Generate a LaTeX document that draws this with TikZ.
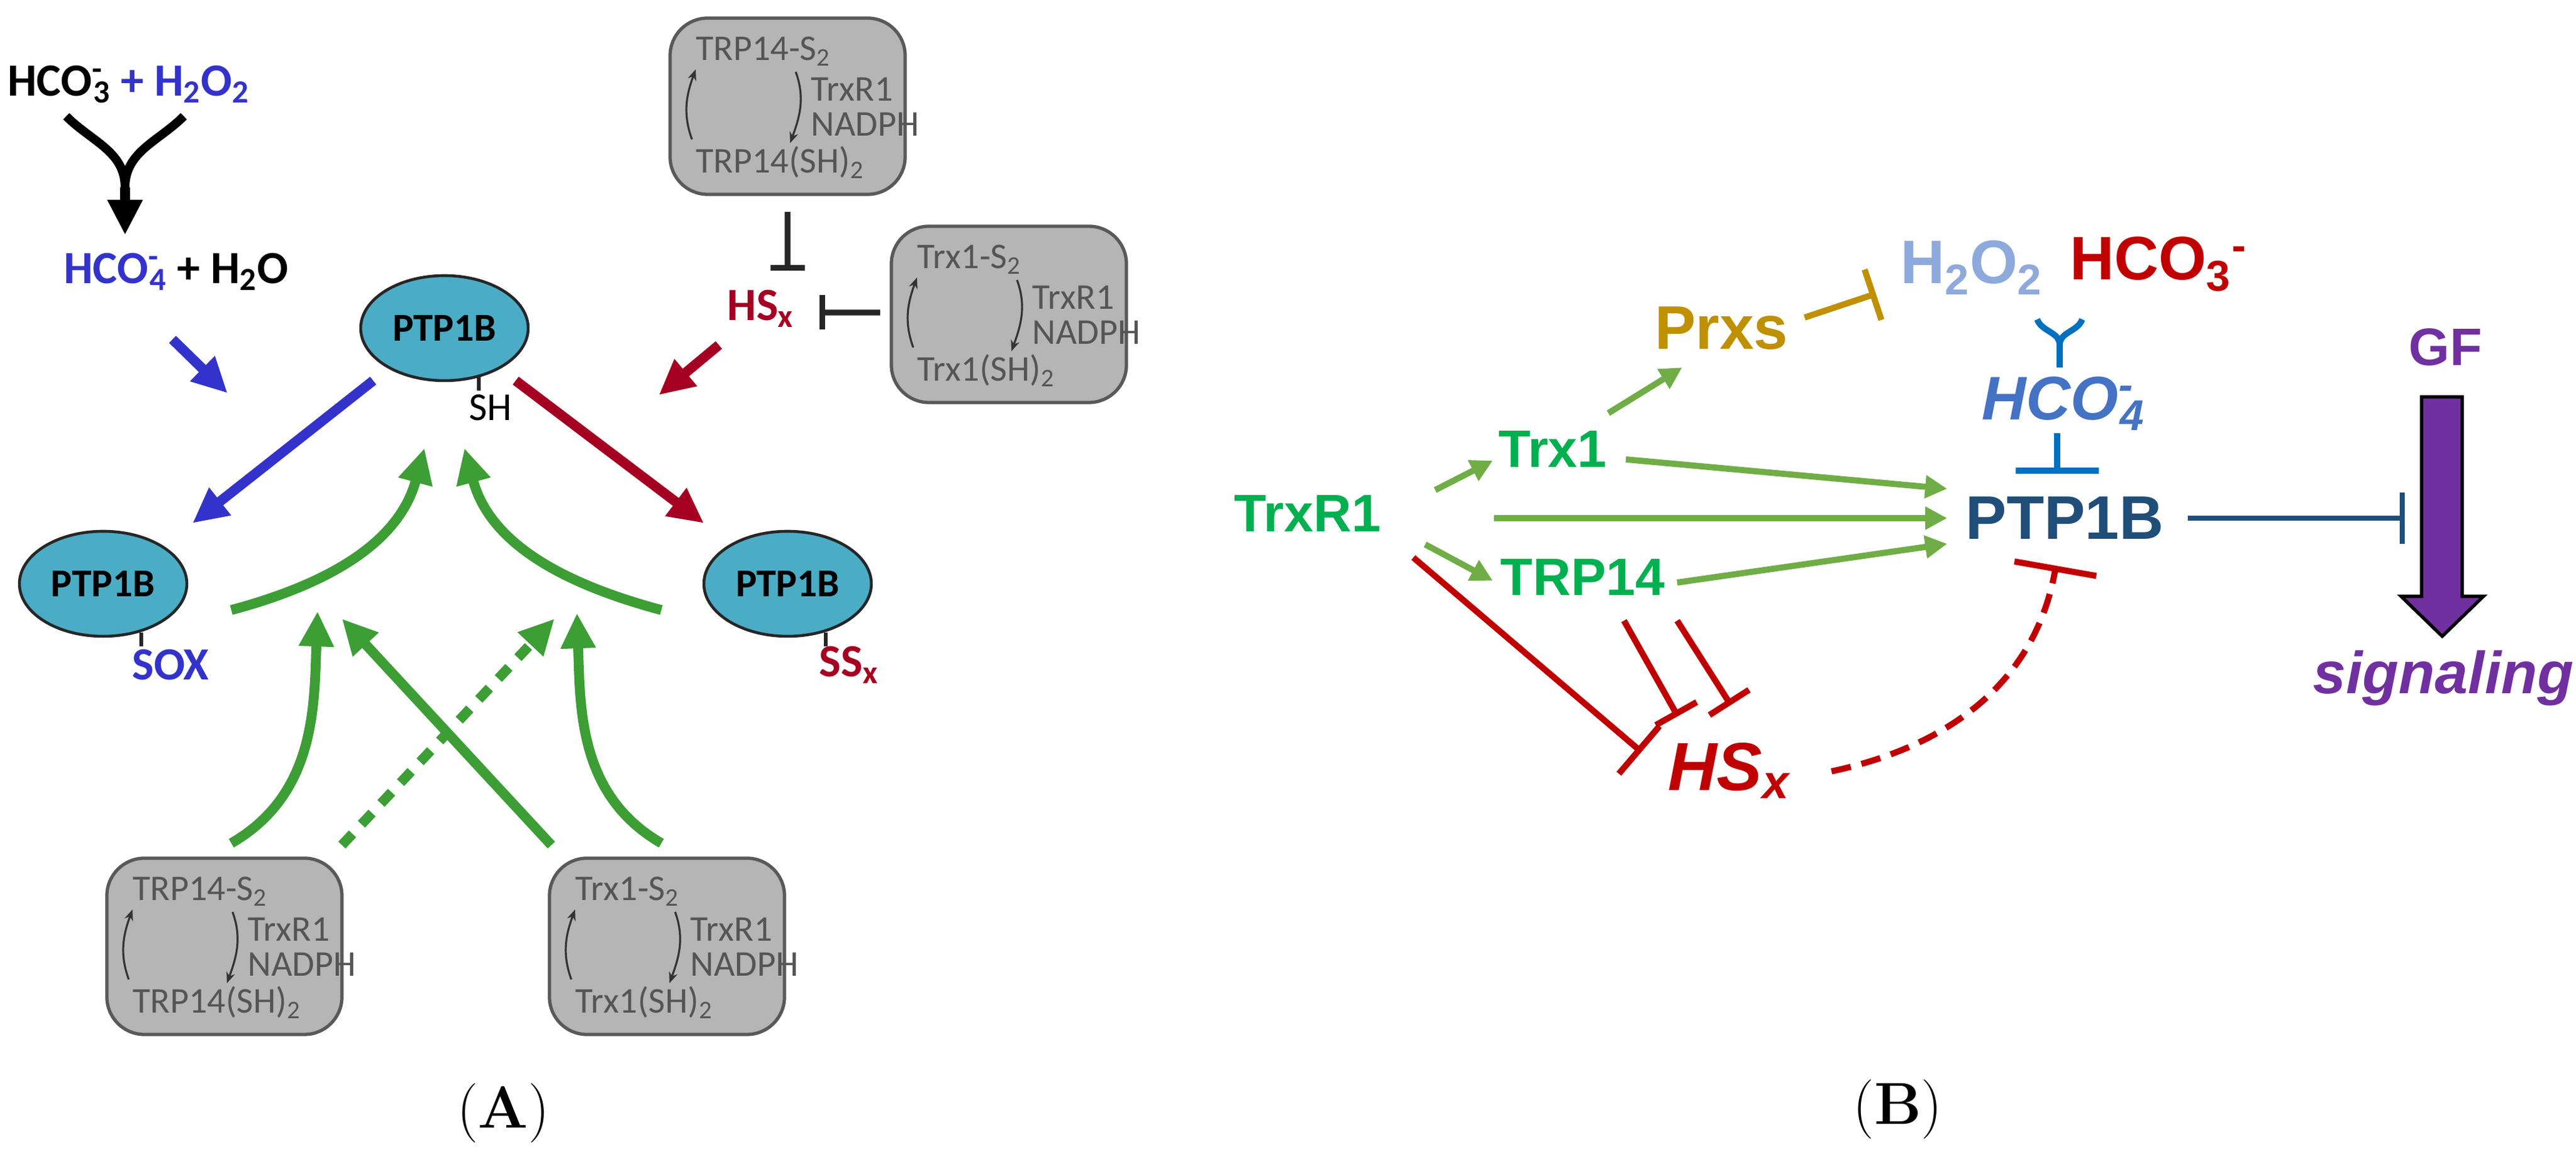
\documentclass[tikz,border=0pt]{standalone}
\usepackage{fontspec}
\usepackage{tikz}
\usetikzlibrary{arrows.meta, positioning, calc, shapes.geometric}
\newfontfamily\calib{Carlito}
\newfontfamily\arial{Liberation Sans}
\definecolor{ablue}{RGB}{51,51,204}
\definecolor{ared}{RGB}{165,0,33}
\definecolor{agreen}{RGB}{60,158,52}
\definecolor{ateal}{RGB}{75,172,198}
\definecolor{boxgray}{RGB}{181,181,181}
\definecolor{boxedge}{RGB}{89,89,89}
\definecolor{boxtxt}{RGB}{85,85,85}
\definecolor{bgreen}{RGB}{0,176,80}
\definecolor{barrow}{RGB}{112,173,71}
\definecolor{bgold}{RGB}{191,144,0}
\definecolor{blight}{RGB}{142,169,219}
\definecolor{bred}{RGB}{192,0,0}
\definecolor{bblue}{RGB}{0,112,192}
\definecolor{bmid}{RGB}{68,114,196}
\definecolor{bdark}{RGB}{31,78,121}
\definecolor{bpurple}{RGB}{112,48,160}
\newcommand{\ionsub}[2]{\textsuperscript{\rlap{#2}}\textsubscript{#1}}
% redox cycle box: name, position, oxidised, reduced
\newcommand{\redoxbox}[4]{%
  \node[cyclebox] (#1) at (#2) {};
  \node[boxtext, anchor=west] at ($(#1)+(-1.47,0.88)$) {#3};
  \node[boxtext, anchor=west] at ($(#1)+(-1.47,-0.90)$) {#4};
  \node[boxtext, anchor=west] at ($(#1)+(0.37,0.27)$) {TrxR1};
  \node[boxtext, anchor=west] at ($(#1)+(0.37,-0.29)$) {NADPH};
  \draw[cyclearrow] ($(#1)+(-1.53,-0.53)$) to[out=110,in=-110] ($(#1)+(-1.47,0.59)$);
  \draw[cyclearrow] ($(#1)+(0.13,0.55)$) to[out=-70,in=70] ($(#1)+(0.04,-0.59)$);
}

\begin{document}
\begin{tikzpicture}[
  cyclebox/.style={rectangle, rounded corners=0.6cm, fill=boxgray, draw=boxedge,
    line width=1.5pt, minimum width=3.76cm, minimum height=2.82cm},
  boxtext/.style={font=\calib\fontsize{16.5}{17}\selectfont, text=boxtxt, inner sep=0pt},
  cyclearrow/.style={-{Stealth[length=5pt,width=4pt]}, line width=0.9pt, black!80},
  enzyme/.style={ellipse, fill=ateal, draw=black!85, line width=1.3pt,
    minimum width=2.28cm, minimum height=1.68cm, font=\calib\bfseries\fontsize{18}{18}\selectfont},
  atext/.style={font=\calib\bfseries\fontsize{21}{21}\selectfont, inner sep=0pt},
  fat/.style={-{Triangle[length=16pt,width=15pt]}, line width=4.5pt},
  blocker/.style={-{Bar[width=0.55cm]}, line width=2.6pt, black!85},
  btext/.style={font=\arial\bfseries\fontsize{24}{24}\selectfont, inner sep=0pt},
  barr/.style={-{Triangle[length=10pt,width=10pt]}, line width=2.8pt, barrow},
  binh/.style={-{Bar[width=#1]}, line width=2.8pt},
  tick/.style={line width=1.5pt, black!85}
]
\useasboundingbox (0,0) rectangle (41.21,18.43);

% Panel A: species
\node[atext] (reactA) at (2.06,17.08) {HCO\ionsub{3}{-} \textcolor{ablue}{+ H\textsubscript{2}O\textsubscript{2}}};
\node[atext] (prodA) at (2.82,14.08) {\textcolor{ablue}{HCO\ionsub{4}{-}} + H\textsubscript{2}O};
\node[enzyme] (ptpTop) at (7.11,13.18) {PTP1B};
\node[enzyme] (ptpSox) at (1.65,9.09) {PTP1B};
\node[enzyme] (ptpSs) at (12.60,9.09) {PTP1B};
\node[font=\calib\fontsize{18}{18}\selectfont, inner sep=0pt] (sh) at (7.85,11.91) {SH};
\node[atext, text=ablue] (sox) at (2.73,7.79) {SOX};
\node[atext, text=ared] (ssx) at (13.58,7.79) {SS\textsubscript{x}};
\node[atext, text=ared] (hsxA) at (12.17,13.49) {HS\textsubscript{x}};
\draw[tick] ($(ptpTop)+(0.55,-0.78)$) -- ++(0,-0.22);
\draw[tick] ($(ptpSox)+(0.61,-0.78)$) -- ++(0,-0.22);
\draw[tick] ($(ptpSs)+(0.61,-0.78)$) -- ++(0,-0.22);

% Panel A: redox boxes
\redoxbox{trpTop}{12.60,16.73}{TRP14-S\textsubscript{2}}{TRP14(SH)\textsubscript{2}}
\redoxbox{trxTop}{16.14,13.40}{Trx1-S\textsubscript{2}}{Trx1(SH)\textsubscript{2}}
\redoxbox{trpBot}{3.59,3.29}{TRP14-S\textsubscript{2}}{TRP14(SH)\textsubscript{2}}
\redoxbox{trxBot}{10.67,3.29}{Trx1-S\textsubscript{2}}{Trx1(SH)\textsubscript{2}}

% Panel A: connectors
\coordinate (mergeA) at ($(prodA)+(-0.82,1.35)$);
\draw[line width=4pt] ($(reactA)+(-1.0,-0.51)$) to[out=-45,in=90] (mergeA);
\draw[line width=4pt] ($(reactA)+(0.88,-0.51)$) to[out=-135,in=90] (mergeA);
\draw[fat] (mergeA) -- ($(prodA)+(-0.82,0.59)$);
\draw[fat, ablue] ($(prodA)+(-0.06,-1.08)$) -- ($(prodA)+(0.82,-1.94)$);
\draw[fat, ablue] ($(ptpTop)+(-1.14,-0.84)$) -- ($(ptpSox)+(1.43,0.97)$);
\draw[fat, ared] ($(ptpTop)+(1.14,-0.84)$) -- ($(ptpSs)+(-1.34,0.97)$);
\draw[fat, ared] ($(hsxA)+(-0.67,-0.58)$) -- ($(hsxA)+(-1.63,-1.38)$);
\draw[blocker] ($(trpTop)+(0,-1.69)$) -- ($(hsxA)+(0.43,0.61)$);
\draw[blocker] ($(trxTop)+(-2.06,0.03)$) -- ($(hsxA)+(0.94,-0.06)$);
\draw[fat, agreen] ($(ptpSox)+(2.05,-0.42)$) to[out=15,in=-105] ($(ptpTop)+(-0.32,-1.92)$);
\draw[fat, agreen] ($(ptpSs)+(-2.02,-0.42)$) to[out=165,in=-75] ($(ptpTop)+(0.32,-1.92)$);
\draw[fat, agreen] ($(trpBot)+(0.11,1.65)$) to[out=30,in=-92] ($(trpBot)+(1.49,5.36)$);
\draw[fat, agreen] ($(trxBot)+(-0.09,1.65)$) to[out=150,in=-88] ($(trxBot)+(-1.44,5.33)$);
\draw[fat, agreen] ($(trxBot)+(-1.85,1.62)$) -- ($(trpBot)+(1.88,5.24)$);
\draw[fat, agreen, dash pattern=on 7pt off 6pt] ($(trpBot)+(1.88,1.62)$) -- ($(trxBot)+(-1.80,5.24)$);

\node[font=\fontsize{27}{27}\selectfont] (capA) at (8.05,0.62) {(\textbf{A})};

% Panel B: species
\node[btext, text=bgreen] (trxr1) at (20.92,10.21) {TrxR1};
\node[btext, text=bgreen] (trx1) at (24.84,11.24) {Trx1};
\node[btext, text=bgreen] (trp14) at (25.32,9.19) {TRP14};
\node[btext, text=bgold, font=\arial\bfseries\fontsize{28}{28}\selectfont] (prxs) at (27.54,13.18) {Prxs};
\node[btext, text=blight, font=\arial\bfseries\fontsize{28}{28}\selectfont] (h2o2) at (31.54,14.15) {H\textsubscript{2}O\textsubscript{2}};
\node[btext, text=bred, font=\arial\bfseries\fontsize{28}{28}\selectfont] (hco3) at (34.53,14.20) {HCO\textsubscript{3}\textsuperscript{-}};
\node[btext, text=bmid, font=\arial\bfseries\itshape\fontsize{28}{28}\selectfont] (hco4) at (33.01,11.97) {HCO\ionsub{4}{-}};
\node[btext, text=bdark, font=\arial\bfseries\fontsize{28}{28}\selectfont] (ptpB) at (33.03,10.14) {PTP1B};
\node[btext, text=bred, font=\arial\bfseries\itshape\fontsize{31}{31}\selectfont] (hsxB) at (27.66,6.10) {HS\textsubscript{x}};
\node[btext, text=bpurple] (gf) at (39.12,12.88) {GF};
\node[btext, text=bpurple, font=\arial\bfseries\itshape\fontsize{27}{27}\selectfont] (sig) at (39.09,7.58) {signaling};

% Panel B: connectors
\draw[barr] ($(trxr1)+(2.04,0.38)$) -- ($(trx1)+(-0.96,-0.18)$);
\draw[barr] ($(trxr1)+(1.88,-0.49)$) -- ($(trp14)+(-1.44,-0.05)$);
\draw[barr] ($(trxr1)+(2.98,-0.07)$) -- ($(ptpB)+(-1.88,0)$);
\draw[barr] ($(trx1)+(1.17,-0.16)$) -- ($(ptpB)+(-1.88,0.47)$);
\draw[barr] ($(trp14)+(1.51,-0.08)$) -- ($(ptpB)+(-1.88,-0.41)$);
\draw[barr] ($(trx1)+(0.89,0.58)$) -- ($(prxs)+(-0.63,-0.63)$);
\draw[binh=0.85cm, bgold] ($(prxs)+(1.33,0.17)$) -- ($(h2o2)+(-1.53,-0.42)$);
\coordinate (fork) at ($(hco4)+(-0.06,0.94)$);
\draw[line width=2.8pt, bblue] ($(fork)+(-0.36,0.41)$) to[out=-70,in=90] (fork);
\draw[line width=2.8pt, bblue] ($(fork)+(0.36,0.41)$) to[out=-110,in=90] (fork);
\draw[line width=2.8pt, bblue] (fork) -- ($(hco4)+(-0.06,0.58)$);
\draw[binh=1.33cm, bblue] ($(hco4)+(-0.10,-0.47)$) -- ($(ptpB)+(-0.12,0.71)$);
\draw[binh=1.33cm, bred, dash pattern=on 9pt off 5pt] ($(hsxB)+(1.64,-0.01)$) to[out=12,in=-100] ($(ptpB)+(-0.14,-0.76)$);
\draw[binh=1.0cm, bred] ($(trxr1)+(1.69,-0.70)$) -- ($(hsxB)+(-1.40,0.30)$);
\draw[binh=0.75cm, bred] ($(trp14)+(0.66,-0.69)$) -- ($(hsxB)+(-0.82,0.87)$);
\draw[binh=0.75cm, bred] ($(trp14)+(1.51,-0.69)$) -- ($(hsxB)+(0.03,1.05)$);
\draw[binh=0.82cm, bdark, line width=2.4pt] ($(ptpB)+(1.97,0)$) -- ($(sig)+(-0.62,2.56)$);
\draw[fill=bpurple, draw=black, line width=1.5pt] ($(gf)+(-0.38,-0.80)$) -- ++(0.65,0) -- ++(0,-3.19)
  -- ++(0.34,0) -- ++(-0.66,-0.64) -- ++(-0.66,0.64) -- ++(0.33,0) -- cycle;

\node[font=\fontsize{27}{27}\selectfont] (capB) at (30.36,0.68) {(\textbf{B})};
\end{tikzpicture}
\end{document}
